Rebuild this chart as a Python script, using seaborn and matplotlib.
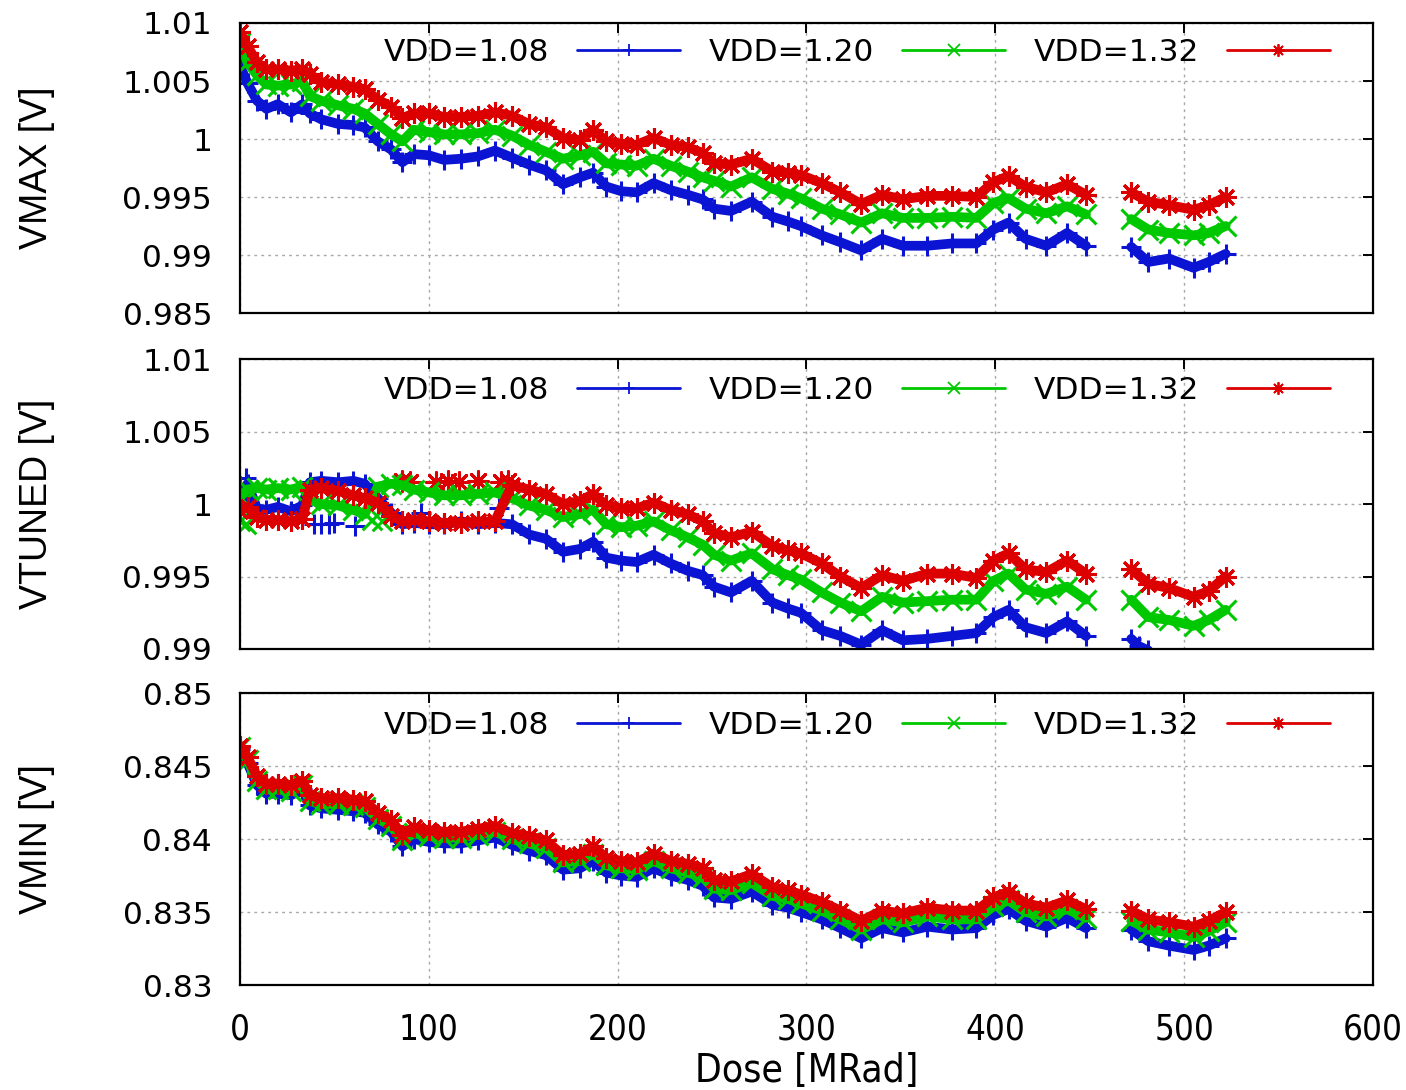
import numpy as np
import pandas as pd
import seaborn as sns
import matplotlib.pyplot as plt
from matplotlib.lines import Line2D
from matplotlib.ticker import MultipleLocator, FuncFormatter

# dose grid (MRad): run before the gap and run after the gap
DOSE_A = [0, 4, 9, 14, 20, 27, 33, 37, 43, 52, 60, 66, 73, 80, 86, 92, 100, 108,
          117, 126, 135, 144, 153, 162, 171, 180, 187, 194, 202, 210, 219, 228,
          237, 245, 251, 260, 271, 282, 290, 297, 308, 318, 329, 340, 351, 364,
          377, 390, 399, 407, 416, 427, 438, 448]
DOSE_B = [472, 481, 492, 505, 513, 522]
VDD_LABELS = ["VDD=1.08", "VDD=1.20", "VDD=1.32"]

# VMAX [V]
vmax_108 = [1.0063, 1.0048, 1.0033, 1.0026, 1.0030, 1.0023, 1.0030, 1.0022, 1.0017, 1.0013,
            1.0012, 1.0010, 0.9998, 0.9991, 0.9980, 0.9987, 0.9986, 0.9982, 0.9983, 0.9985,
            0.9990, 0.9984, 0.9978, 0.9973, 0.9961, 0.9967, 0.9971, 0.9959, 0.9955, 0.9954,
            0.9962, 0.9956, 0.9952, 0.9948, 0.9940, 0.9938, 0.9946, 0.9933, 0.9929, 0.9925,
            0.9917, 0.9911, 0.9904, 0.9914, 0.9908, 0.9908, 0.9910, 0.9910, 0.9922, 0.9928,
            0.9914, 0.9908, 0.9919, 0.9908]
vmax_108_b = [0.9907, 0.9894, 0.9897, 0.9889, 0.9894, 0.9901]
vmax_120 = [1.0083, 1.0066, 1.0055, 1.0047, 1.0046, 1.0047, 1.0050, 1.0037, 1.0033, 1.0029,
            1.0026, 1.0022, 1.0013, 1.0004, 0.9998, 1.0008, 1.0006, 1.0004, 1.0004, 1.0005,
            1.0008, 1.0003, 0.9995, 0.9989, 0.9983, 0.9986, 0.9989, 0.9979, 0.9978, 0.9977,
            0.9983, 0.9977, 0.9972, 0.9967, 0.9964, 0.9959, 0.9967, 0.9957, 0.9953, 0.9949,
            0.9940, 0.9935, 0.9928, 0.9936, 0.9932, 0.9932, 0.9933, 0.9932, 0.9945, 0.9949,
            0.9940, 0.9936, 0.9942, 0.9935]
vmax_120_b = [0.9931, 0.9922, 0.9919, 0.9917, 0.9919, 0.9925]
vmax_132 = [1.0092, 1.0080, 1.0066, 1.0060, 1.0060, 1.0059, 1.0060, 1.0056, 1.0049, 1.0047,
            1.0045, 1.0043, 1.0034, 1.0028, 1.0018, 1.0022, 1.0022, 1.0019, 1.0019, 1.0020,
            1.0023, 1.0020, 1.0013, 1.0010, 1.0001, 0.9999, 1.0008, 0.9998, 0.9996, 0.9995,
            1.0001, 0.9995, 0.9993, 0.9988, 0.9979, 0.9978, 0.9983, 0.9972, 0.9971, 0.9969,
            0.9962, 0.9954, 0.9944, 0.9952, 0.9948, 0.9951, 0.9951, 0.9950, 0.9963, 0.9968,
            0.9959, 0.9954, 0.9961, 0.9952]
vmax_132_b = [0.9954, 0.9946, 0.9943, 0.9939, 0.9943, 0.9950]

# VTUNED [V]
vtun_108 = [0.9995, 1.0014, 0.9997, 0.9996, 0.9998, 0.9995, 0.9999, 1.0015, 1.0016, 1.0015,
            1.0016, 1.0014, 1.0004, 0.9994, 0.9986, 0.9987, 0.9986, 0.9986, 0.9988, 0.9986,
            0.9987, 0.9986, 0.9979, 0.9976, 0.9967, 0.9969, 0.9974, 0.9963, 0.9961, 0.9960,
            0.9965, 0.9959, 0.9954, 0.9951, 0.9943, 0.9939, 0.9947, 0.9932, 0.9928, 0.9925,
            0.9913, 0.9909, 0.9903, 0.9913, 0.9906, 0.9907, 0.9909, 0.9911, 0.9922, 0.9927,
            0.9915, 0.9911, 0.9919, 0.9909]
vtun_108_dose_b = [472, 476, 481]
vtun_108_b = [0.9907, 0.9902, 0.9899]
vtun_120 = [1.0005, 1.0010, 1.0011, 1.0010, 1.0011, 1.0010, 1.0012, 1.0003, 1.0000, 0.9999,
            0.9996, 0.9993, 1.0012, 1.0014, 1.0013, 1.0010, 1.0008, 1.0006, 1.0006, 1.0007,
            1.0008, 1.0004, 0.9999, 0.9996, 0.9991, 0.9993, 0.9996, 0.9986, 0.9984, 0.9985,
            0.9988, 0.9982, 0.9977, 0.9972, 0.9965, 0.9961, 0.9966, 0.9955, 0.9951, 0.9948,
            0.9939, 0.9932, 0.9926, 0.9936, 0.9932, 0.9933, 0.9934, 0.9934, 0.9947, 0.9952,
            0.9941, 0.9938, 0.9943, 0.9934]
vtun_120_b = [0.9934, 0.9922, 0.9920, 0.9916, 0.9920, 0.9927]
vtun_132 = [0.9995, 0.9998, 0.9991, 0.9989, 0.9989, 0.9988, 0.9990, 1.0010, 1.0011, 1.0009,
            1.0006, 1.0004, 1.0001, 0.9992, 0.9988, 0.9989, 0.9988, 0.9987, 0.9987, 0.9988,
            0.9988, 1.0013, 1.0010, 1.0007, 1.0000, 1.0002, 1.0007, 0.9999, 0.9997, 0.9997,
            1.0001, 0.9996, 0.9993, 0.9988, 0.9980, 0.9977, 0.9981, 0.9971, 0.9968, 0.9966,
            0.9959, 0.9950, 0.9942, 0.9951, 0.9947, 0.9952, 0.9952, 0.9949, 0.9961, 0.9966,
            0.9955, 0.9953, 0.9961, 0.9952]
vtun_132_b = [0.9955, 0.9945, 0.9942, 0.9936, 0.9940, 0.9950]
# stray VTUNED readings (dose, volt)
vtun_108_alt = [(3, 1.0018), (39, 0.9986), (43, 0.9986), (47, 0.9986), (50, 0.9987),
                (61, 0.9985), (96, 0.9994), (137, 0.9997)]
vtun_120_alt = [(0, 0.9988), (3, 0.9986), (70, 0.9989), (75, 0.9988)]
vtun_132_alt = [(0, 1.0012), (86, 1.0016), (90, 1.0015), (104, 1.0015), (110, 1.0016),
                (116, 1.0015), (126, 1.0016), (138, 1.0015), (142, 1.0016)]

# VMIN [V]
vmin_108 = [0.8462, 0.8452, 0.8437, 0.8431, 0.8431, 0.8430, 0.8434, 0.8423, 0.8421, 0.8420,
            0.8419, 0.8418, 0.8410, 0.8405, 0.8395, 0.8400, 0.8398, 0.8397, 0.8397, 0.8399,
            0.8401, 0.8396, 0.8392, 0.8389, 0.8379, 0.8380, 0.8385, 0.8377, 0.8375, 0.8374,
            0.8380, 0.8375, 0.8372, 0.8368, 0.8360, 0.8359, 0.8364, 0.8355, 0.8353, 0.8350,
            0.8345, 0.8339, 0.8332, 0.8339, 0.8336, 0.8340, 0.8338, 0.8339, 0.8348, 0.8352,
            0.8344, 0.8340, 0.8346, 0.8339]
vmin_108_b = [0.8338, 0.8330, 0.8327, 0.8324, 0.8327, 0.8332]
vmin_120 = [0.8463, 0.8454, 0.8440, 0.8434, 0.8434, 0.8433, 0.8437, 0.8426, 0.8424, 0.8424,
            0.8423, 0.8422, 0.8414, 0.8409, 0.8399, 0.8404, 0.8402, 0.8401, 0.8401, 0.8403,
            0.8405, 0.8400, 0.8397, 0.8394, 0.8384, 0.8385, 0.8390, 0.8382, 0.8380, 0.8379,
            0.8385, 0.8380, 0.8377, 0.8374, 0.8366, 0.8365, 0.8370, 0.8361, 0.8359, 0.8356,
            0.8351, 0.8345, 0.8338, 0.8345, 0.8343, 0.8347, 0.8345, 0.8345, 0.8354, 0.8358,
            0.8350, 0.8347, 0.8352, 0.8346]
vmin_120_b = [0.8344, 0.8338, 0.8336, 0.8333, 0.8337, 0.8343]
vmin_132 = [0.8464, 0.8456, 0.8443, 0.8438, 0.8438, 0.8437, 0.8440, 0.8430, 0.8428, 0.8428,
            0.8427, 0.8426, 0.8418, 0.8413, 0.8403, 0.8408, 0.8406, 0.8405, 0.8405, 0.8407,
            0.8409, 0.8404, 0.8402, 0.8399, 0.8389, 0.8390, 0.8395, 0.8387, 0.8385, 0.8384,
            0.8390, 0.8385, 0.8383, 0.8380, 0.8372, 0.8371, 0.8376, 0.8367, 0.8365, 0.8362,
            0.8357, 0.8351, 0.8344, 0.8351, 0.8349, 0.8353, 0.8351, 0.8351, 0.8360, 0.8364,
            0.8356, 0.8353, 0.8358, 0.8352]
vmin_132_b = [0.8351, 0.8345, 0.8343, 0.8340, 0.8344, 0.8350]

COLORS = ['#0a14d2', '#00c800', '#dc0000']
MARKERS = ['+', 'x', (8, 2, 0)]


def long_frame(parts):
    rows = []
    for vdd, seg, xs, ys in parts:
        for x, y in zip(xs, ys):
            rows.append({'dose': x, 'volt': y, 'vdd': vdd, 'seg': seg})
    return pd.DataFrame(rows)


panels = [
    ("VMAX [V]", (0.985, 1.01), long_frame([
        (0, 0, DOSE_A, vmax_108), (0, 1, DOSE_B, vmax_108_b),
        (1, 0, DOSE_A, vmax_120), (1, 1, DOSE_B, vmax_120_b),
        (2, 0, DOSE_A, vmax_132), (2, 1, DOSE_B, vmax_132_b)]), None),
    ("VTUNED [V]", (0.99, 1.01), long_frame([
        (0, 0, DOSE_A, vtun_108), (0, 1, vtun_108_dose_b, vtun_108_b),
        (1, 0, DOSE_A, vtun_120), (1, 1, DOSE_B, vtun_120_b),
        (2, 0, DOSE_A, vtun_132), (2, 1, DOSE_B, vtun_132_b)]),
     [vtun_108_alt, vtun_120_alt, vtun_132_alt]),
    ("VMIN [V]", (0.83, 0.85), long_frame([
        (0, 0, DOSE_A, vmin_108), (0, 1, DOSE_B, vmin_108_b),
        (1, 0, DOSE_A, vmin_120), (1, 1, DOSE_B, vmin_120_b),
        (2, 0, DOSE_A, vmin_132), (2, 1, DOSE_B, vmin_132_b)]), None),
]

sns.set_theme(style="white", rc={"axes.edgecolor": "black", "axes.linewidth": 1.6,
                                 "text.color": "black", "axes.labelcolor": "black",
                                 "xtick.color": "black", "ytick.color": "black"})
plt.rcParams['font.family'] = ['DejaVu Sans']

fig = plt.figure(figsize=(14.06, 10.9), dpi=100)
boxes = [(0.1707, 0.7128, 0.8058, 0.2661),
         (0.1707, 0.4046, 0.8058, 0.2660),
         (0.1707, 0.0963, 0.8058, 0.2679)]
legend_y = [0.897, 0.893, 0.890]

for i, (ylabel, ylim, df, alts) in enumerate(panels):
    ax = fig.add_axes(boxes[i])
    for k in range(3):
        sub = df[df['vdd'] == k]
        sns.lineplot(data=sub, x='dose', y='volt', units='seg', estimator=None,
                     color=COLORS[k], marker=MARKERS[k], markersize=15, markeredgewidth=2.2,
                     markeredgecolor=COLORS[k], linewidth=7, legend=False, ax=ax)
        if alts is not None:
            pts = pd.DataFrame(alts[k], columns=['dose', 'volt'])
            sns.scatterplot(data=pts, x='dose', y='volt', color=COLORS[k], marker=MARKERS[k],
                            s=200, linewidth=2.2, edgecolor=COLORS[k], legend=False, ax=ax)

    ax.set_xlim(0, 600)
    ax.set_ylim(*ylim)
    ax.xaxis.set_major_locator(MultipleLocator(100))
    ax.yaxis.set_major_locator(MultipleLocator(0.005))
    ax.yaxis.set_major_formatter(FuncFormatter(lambda v, p: "%g" % round(v, 4)))
    ax.grid(True, color='#a8a8a8', linestyle=(0, (2, 3)), linewidth=1.0)
    ax.tick_params(axis='both', direction='in', length=7, width=1.4,
                   top=True, right=True, labelsize=22.5)
    ax.tick_params(axis='y', pad=20)
    ax.tick_params(axis='x', pad=20)
    ax.set_ylabel(ylabel, fontsize=27, family=['Liberation Sans', 'DejaVu Sans'])
    ax.yaxis.set_label_coords(-0.163, 0.5)

    if i < 2:
        ax.set_xlabel('')
        ax.set_xticklabels([])
    else:
        ax.set_xlabel('Dose [MRad]', fontsize=28, fontstretch='condensed',
                      family=['Liberation Sans Narrow', 'DejaVu Sans'])
        ax.xaxis.set_label_coords(0.5, -0.23)
        for lab in ax.get_xticklabels():
            lab.set_family(['Liberation Sans Narrow', 'DejaVu Sans'])
            lab.set_stretch('condensed')
            lab.set_fontsize(25)

    handles = [Line2D([0], [0], color=COLORS[k], lw=2, marker=MARKERS[k],
                      markersize=9, markeredgewidth=1.3) for k in range(3)]
    ax.legend(handles, VDD_LABELS, ncol=3, loc='center right',
              bbox_to_anchor=(0.962, legend_y[i]), frameon=False, markerfirst=False,
              fontsize=22.5, handlelength=3.3, handletextpad=0.9, columnspacing=0.9,
              borderpad=0, borderaxespad=0)

plt.savefig('out.png', dpi=100)
plt.close()
